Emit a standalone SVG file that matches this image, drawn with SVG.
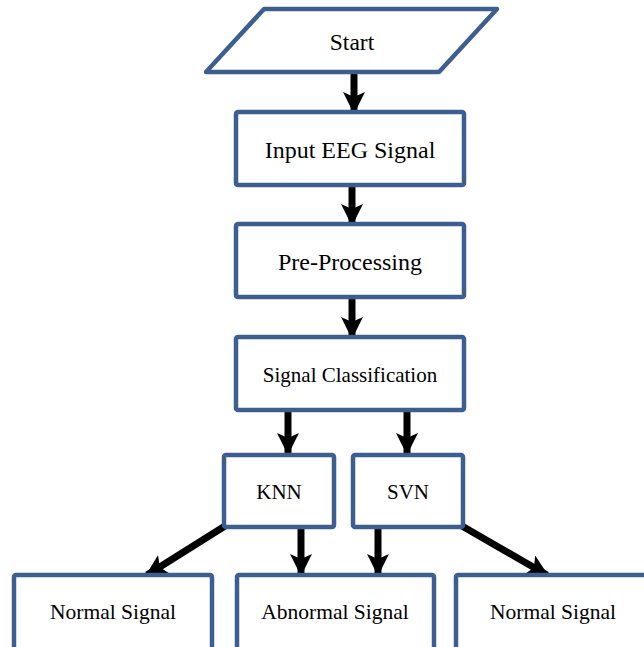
<svg xmlns="http://www.w3.org/2000/svg" width="644" height="647" viewBox="0 0 644 647">
<style>
.box{fill:#fff;stroke:#3d5f8f;stroke-width:4.5;stroke-linejoin:round}
.t{font-family:"Liberation Serif","Times New Roman",serif;fill:#000;text-anchor:middle}
.c{stroke:#000;stroke-width:7;fill:none}
</style>
<defs>
<marker id="ah" markerUnits="userSpaceOnUse" markerWidth="22" markerHeight="22" viewBox="0 0 22 22" refX="20" refY="11" orient="auto">
<path d="M0,0 L22,11 L0,22 L5,11 Z" fill="#000"/>
</marker>
</defs>
<rect width="644" height="647" fill="#fff"/>
<g id="connectors">
<line class="c" x1="354" y1="74" x2="354" y2="112" marker-end="url(#ah)"/>
<line class="c" x1="352" y1="186" x2="352" y2="224" marker-end="url(#ah)"/>
<line class="c" x1="352" y1="298" x2="352" y2="337" marker-end="url(#ah)"/>
<line class="c" x1="288" y1="411" x2="288" y2="453" marker-end="url(#ah)"/>
<line class="c" x1="407" y1="411" x2="407" y2="453" marker-end="url(#ah)"/>
<line class="c" x1="301" y1="528" x2="301" y2="574" marker-end="url(#ah)"/>
<line class="c" x1="378" y1="528" x2="378" y2="574" marker-end="url(#ah)"/>
<line class="c" x1="225" y1="526" x2="147" y2="575" marker-end="url(#ah)"/>
<line class="c" x1="462" y1="526" x2="547" y2="575" marker-end="url(#ah)"/>
</g>
<g id="start">
<polygon class="box" points="264,9 497,9 439,72 206,72"/>
<text class="t" x="352" y="50" font-size="23.5">Start</text>
</g>
<g id="input">
<rect class="box" x="236" y="112" width="228" height="73" rx="2"/>
<text class="t" x="350" y="158" font-size="24">Input EEG Signal</text>
</g>
<g id="preprocessing">
<rect class="box" x="236" y="224" width="228" height="73" rx="2"/>
<text class="t" x="350" y="270" font-size="24">Pre-Processing</text>
</g>
<g id="classification">
<rect class="box" x="236" y="337" width="228" height="73" rx="2"/>
<text class="t" x="350" y="382" font-size="21">Signal Classification</text>
</g>
<g id="knn">
<rect class="box" x="224" y="455" width="110" height="72" rx="2"/>
<text class="t" x="279" y="499" font-size="21">KNN</text>
</g>
<g id="svn">
<rect class="box" x="353" y="455" width="110" height="72" rx="2"/>
<text class="t" x="408" y="499" font-size="21">SVN</text>
</g>
<g id="normal1">
<rect class="box" x="14" y="575" width="198" height="80" rx="2"/>
<text class="t" x="113" y="619" font-size="21.5">Normal Signal</text>
</g>
<g id="abnormal">
<rect class="box" x="237" y="575" width="197" height="80" rx="2"/>
<text class="t" x="335" y="619" font-size="21.5">Abnormal Signal</text>
</g>
<g id="normal2">
<rect class="box" x="456" y="575" width="198" height="80" rx="2"/>
<text class="t" x="553" y="619" font-size="21.5">Normal Signal</text>
</g>
</svg>
